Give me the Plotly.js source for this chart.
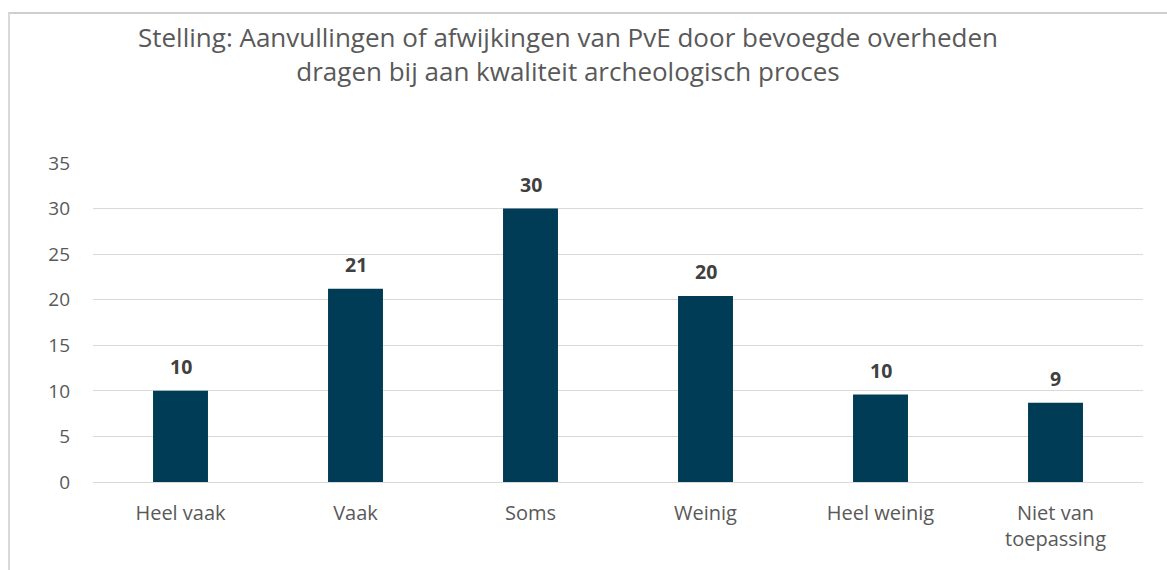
<!DOCTYPE html>
<html>
<head>
<meta charset="utf-8">
<script src="https://cdn.plot.ly/plotly-3.0.1.min.js"></script>
<style>
html,body{margin:0;padding:0;background:#fff;}
#wrap{position:relative;width:1167px;height:570px;overflow:hidden;}
#chart{width:1167px;height:570px;}
#frame{position:absolute;left:8px;top:12px;width:1200px;height:600px;border-top:2px solid #cfcfcf;border-left:2px solid #d9d9d9;pointer-events:none;box-sizing:border-box;}
</style>
</head>
<body>
<div id="wrap">
<div id="chart"></div>
<div id="frame"></div>
</div>
<script>
const categories = ["Heel vaak", "Vaak", "Soms", "Weinig", "Heel weinig", "Niet van<br>toepassing"];
const values = [10.0, 21.2, 30.0, 20.4, 9.6, 8.7];
const labels = ["10", "21", "30", "20", "10", "9"];
const yTicks = [0, 5, 10, 15, 20, 25, 30, 35];
const titleLines = [
  "Stelling: Aanvullingen of afwijkingen van PvE door bevoegde overheden",
  "dragen bij aan kwaliteit archeologisch proces"
];

const FONT = "'Open Sans', 'Noto Sans', sans-serif";
const W = 1167, H = 570;
const mL = 93, mR = 24, mT = 163, mB = 88;
const pw = W - mL - mR, ph = H - mT - mB;
const px2x = p => (p - mL) / pw;
const py2y = p => (H - mB - p) / ph;

const trace = {
  type: "bar",
  x: categories,
  y: values,
  marker: {color: "#003c56"},
  hoverinfo: "x+y"
};

const annotations = categories.map((c, i) => ({
  x: c, y: values[i], xref: "x", yref: "y",
  text: "<b>" + labels[i] + "</b>",
  showarrow: false, yanchor: "bottom", yshift: 9,
  font: {family: FONT, size: 19.5, color: "#404040"}
}));

annotations.push({
  x: px2x(568), y: py2y(54), xref: "paper", yref: "paper",
  text: titleLines.join("<br>"), showarrow: false,
  xanchor: "center", yanchor: "middle", align: "center",
  font: {family: FONT, size: 26, color: "#595959"}
});

const layout = {
  width: W, height: H,
  margin: {l: mL, r: mR, t: mT, b: mB, pad: 0},
  paper_bgcolor: "rgba(0,0,0,0)",
  plot_bgcolor: "rgba(0,0,0,0)",
  showlegend: false,
  bargap: 0.686,
  xaxis: {
    type: "category",
    showgrid: false,
    showline: false,
    zeroline: false,
    ticks: "",
    ticklabelstandoff: 17,
    tickfont: {family: FONT, size: 20, color: "#595959"},
    fixedrange: true
  },
  yaxis: {
    range: [0, 35],
    tickvals: yTicks,
    ticktext: yTicks.map(String),
    showgrid: true,
    gridcolor: "#d9d9d9",
    gridwidth: 1,
    zeroline: true,
    zerolinecolor: "#d9d9d9",
    zerolinewidth: 1,
    showline: false,
    ticks: "",
    ticklabelstandoff: 22,
    tickfont: {family: FONT, size: 19, color: "#595959"},
    fixedrange: true
  },
  annotations: annotations
};

Plotly.newPlot("chart", [trace], layout, {displayModeBar: false, staticPlot: true});
</script>
</body>
</html>
